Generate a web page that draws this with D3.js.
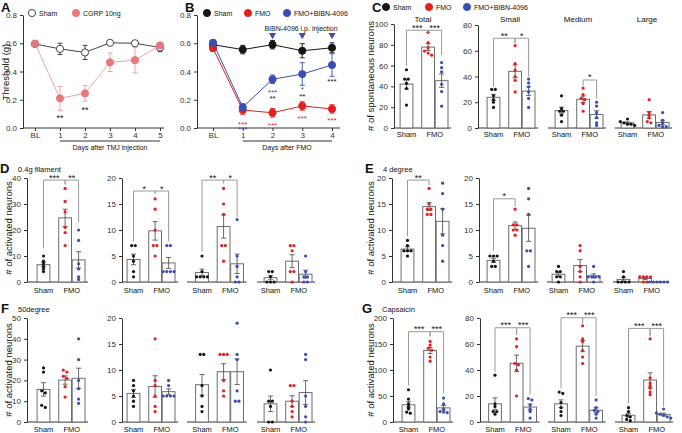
<!DOCTYPE html>
<html>
<head>
<meta charset="utf-8">
<script src="https://cdn.jsdelivr.net/npm/d3@7"></script>
<style>
  body { margin: 0; background: #fff; }
  svg { display: block; font-family: 'Liberation Sans', Arial, sans-serif; }
</style>
</head>
<body>
<svg id="chart"></svg>
<script>
// ---------- panel A : threshold after TMJ injection ----------
let daysA = ['BL', '1', '2', '3', '4', '5']
let shamA = [0.595, 0.56, 0.535, 0.603, 0.60, 0.57]
let shamAErr = [0.01, 0.04, 0.05, 0.01, 0.015, 0.03]
let cgrpA = [0.597, 0.21, 0.245, 0.465, 0.48, 0.585]
let cgrpAErr = [0.01, 0.085, 0.055, 0.065, 0.09, 0.02]
// [day, value, text]
let starsA = [['1', 0.085, '**'], ['2', 0.142, '**']]

// ---------- panel B : threshold after FMO ----------
let daysB = ['BL', '1', '2', '3', '4']
let shamB = [0.59, 0.555, 0.59, 0.547, 0.568]
let shamBErr = [0.02, 0.03, 0.03, 0.05, 0.035]
let fmoB = [0.565, 0.127, 0.108, 0.156, 0.135]
let fmoBErr = [0.02, 0.03, 0.03, 0.03, 0.03]
let bibnB = [0.604, 0.147, 0.345, 0.382, 0.446]
let bibnBErr = [0.015, 0.025, 0.03, 0.08, 0.08]
let injectDays = ['2', '3', '4']
// [day, value, text, group index]
let starsB = [
  ['1', 0.037, '***', 1], ['1', 0.005, '***', 2],
  ['2', 0.266, '***', 2], ['2', 0.225, '**', 0], ['2', 0.035, '***', 1],
  ['3', 0.285, '*', 2], ['3', 0.24, '**', 0], ['3', 0.078, '***', 1],
  ['4', 0.34, '***', 0], ['4', 0.064, '***', 1]
]

let groups = ['Sham', 'FMO', 'FMO+BIBN-4096']
let sizeNames = ['Total', 'Small', 'Medium', 'Large']

// ---------- panel C : spontaneous neurons (Sham, FMO, FMO+BIBN) ----------
let cTotal = [[56, 47, 47, 43, 38, 22], [92, 82, 77, 74, 72, 70], [63, 58, 54, 42, 35, 21]]
let cSmall = [[30, 30, 25, 22, 20, 16], [64, 50, 45, 40, 37, 28], [38, 35, 32, 28, 23, 16]]
let cMedium = [[25, 15, 13, 13, 10, 5], [31, 26, 23, 22, 19, 13], [20, 17, 12, 8, 4, 2]]
let cLarge = [[7, 5, 4, 3, 3, 2], [22, 12, 10, 8, 5, 4], [12, 6, 4, 2, 1, 1]]

// ---------- panel D : 0.4g filament ----------
let dTotal = [[10, 8, 7, 6, 5, 4], [36, 31, 27, 21, 19, 14], [20, 16, 7, 5, 2, 1]]
let dSmall = [[7, 7, 5, 4, 2, 1], [16, 14, 10, 7, 7, 5], [7, 7, 2, 2, 2, 2]]
let dMedium = [[5, 2, 1, 1, 1, 1], [18, 15, 13, 7, 7, 4], [12, 5, 3, 1, 0, 0]]
let dLarge = [[2, 2, 1, 0, 0, 0], [7, 7, 6, 2, 2, 0], [5, 2, 1, 1, 0, 0]]

// ---------- panel E : 4 degree ----------
let eTotal = [[8, 7, 6, 6, 6, 5], [18, 15, 14, 14, 13, 13], [19, 17, 14, 9, 7, 4]]
let eSmall = [[5, 5, 5, 4, 3, 3], [14, 11, 11, 10, 10, 9], [18, 16, 13, 6, 6, 3]]
let eMedium = [[3, 2, 2, 1, 1, 0], [7, 6, 3, 2, 1, 0], [3, 1, 1, 1, 1, 0]]
let eLarge = [[2, 1, 0, 0, 0, 0], [1, 1, 1, 1, 0, 0], [0, 0, 0, 0, 0, 0]]

// ---------- panel F : 50 degree ----------
let fTotal = [[26, 24, 15, 14, 8, 7], [25, 24, 22, 21, 17, 12], [40, 30, 20, 16, 11, 9]]
let fSmall = [[8, 7, 6, 5, 4, 3], [16, 8, 7, 5, 3, 2], [8, 7, 5, 5, 5, 5]]
let fMedium = [[13, 13, 7, 5, 3, 2], [13, 13, 13, 8, 6, 5], [19, 13, 12, 6, 4, 4]]
let fLarge = [[10, 4, 4, 3, 0, 0], [7, 7, 4, 3, 2, 1], [13, 12, 5, 3, 1, 0]]

// ---------- panel G : capsaicin ----------
let gTotal = [[62, 44, 35, 30, 25, 19, 17], [155, 148, 142, 138, 125, 117], [46, 35, 25, 20, 19, 18]]
let gSmall = [[36, 14, 12, 8, 8, 6], [64, 58, 45, 44, 40, 20], [18, 17, 13, 10, 8, 3]]
let gMedium = [[23, 22, 15, 11, 8, 5], [74, 64, 62, 55, 50, 45], [17, 11, 9, 8, 6, 3]]
let gLarge = [[11, 8, 5, 4, 2, 1], [64, 34, 30, 28, 26, 23, 21], [10, 7, 6, 5, 4, 3]]

// significance brackets: [group a, group b, text, level, leg end a, leg end b]
let cSig = [
  [[0, 1, '***', 94, 60, 92], [1, 2, '***', 94, 92, 70]],
  [[0, 1, '**', 69.7, 32, 66], [1, 2, '*', 69.7, 66, 40]],
  [[1, 2, '*', 37.3, 33, 23]],
  []
]
let dSig = [
  [[0, 1, '***', 39.2, 13, 37.5], [1, 2, '**', 39.2, 37.5, 23]],
  [[0, 1, '*', 17.5, 7.8, 17], [1, 2, '*', 17.5, 17, 7.8]],
  [[0, 1, '**', 19.6, 5.8, 19], [1, 2, '*', 19.6, 19, 12.5]],
  []
]
let eSig = [[[0, 1, '**', 19.6, 8.8, 18.6]], [[0, 1, '*', 16, 6, 14.6]], [], []]
let fSig = [[], [], [], []]
let gSig = [
  [[0, 1, '***', 173.7, 70, 165], [1, 2, '***', 173.7, 165, 55]],
  [[0, 1, '***', 72.5, 38.5, 67], [1, 2, '***', 72.5, 67, 21]],
  [[0, 1, '***', 80.2, 26, 76], [1, 2, '***', 80.2, 76, 20]],
  [[0, 1, '***', 72, 14.5, 66], [1, 2, '***', 72, 66, 12]]
]

// ---------- drawing ----------
let width = 682
let height = 433
let groupColor = ['#151515', '#e3201f', '#3a4db3']
let pink = '#e8767d'
let slot = [0, 1.6, 2.6]

let svg = d3.select('#chart').attr('width', width).attr('height', height)

let styleAxis = (g) => {
  g.attr('font-size', 8).attr('font-family', 'Liberation Sans, Arial, sans-serif').attr('color', '#333')
}

let addText = (x, y, str, size, opts) => {
  let t = svg.append('text').attr('x', x).attr('y', y).text(str)
    .attr('font-size', size).attr('fill', '#111')
  if (opts && opts.anchor) t.attr('text-anchor', opts.anchor)
  if (opts && opts.bold) t.attr('font-weight', 'bold')
  if (opts && opts.fill) t.attr('fill', opts.fill)
  return t
}

let yTitle = (x, y, str) => {
  svg.append('text').attr('transform', 'translate(' + x + ',' + y + ') rotate(-90)')
    .attr('text-anchor', 'middle').attr('font-size', 9.5).attr('fill', '#111').text(str)
}

// simple beeswarm: dots with (nearly) equal values are spread sideways
let swarm = (vals, yScale, cx) => {
  let pts = vals.map((v) => ({ v: v, y: yScale(v) })).sort((a, b) => a.y - b.y)
  let clusters = []
  pts.forEach((p) => {
    let last = clusters[clusters.length - 1]
    if (last && Math.abs(p.y - last[last.length - 1].y) < 2.2) last.push(p)
    else clusters.push([p])
  })
  clusters.forEach((c) => c.forEach((p, k) => { p.x = cx + (k - (c.length - 1) / 2) * 3.6 }))
  return pts
}

let lineChart = (days, series, x0, xRange, xEnd) => {
  let xScale = d3.scalePoint().domain(days).range(xRange)
  let yScale = d3.scaleLinear().domain([0, 0.8]).range([128, 15])
  let yAxis = d3.axisLeft(yScale).tickValues([0, 0.2, 0.4, 0.6, 0.8])
    .tickFormat(d3.format('.1f')).tickSize(3).tickSizeOuter(0)
  let gy = svg.append('g').attr('transform', 'translate(' + x0 + ',0)').call(yAxis)
  styleAxis(gy)
  let gx = svg.append('g').attr('transform', 'translate(0,128)')
    .call(d3.axisBottom(xScale).tickSize(3).tickPadding(1))
  gx.select('.domain').remove()
  styleAxis(gx)
  svg.append('line').attr('x1', x0).attr('x2', xEnd).attr('y1', 128).attr('y2', 128)
    .attr('stroke', '#333')

  series.forEach((s) => {
    let line = d3.line().x((d, i) => xScale(days[i])).y((d) => yScale(d))
    svg.append('path').datum(s.vals).attr('d', line).attr('fill', 'none')
      .attr('stroke', s.line).attr('stroke-width', 1)
    s.vals.forEach((v, i) => {
      let cx = xScale(days[i])
      let e = s.err[i]
      let g = svg.append('g').attr('stroke', s.errColor).attr('stroke-width', 0.9)
      g.append('line').attr('x1', cx).attr('x2', cx).attr('y1', yScale(v - e)).attr('y2', yScale(v + e))
      g.append('line').attr('x1', cx - 2.5).attr('x2', cx + 2.5).attr('y1', yScale(v - e)).attr('y2', yScale(v - e))
      g.append('line').attr('x1', cx - 2.5).attr('x2', cx + 2.5).attr('y1', yScale(v + e)).attr('y2', yScale(v + e))
    })
    svg.selectAll(null).data(s.vals).enter().append('circle')
      .attr('cx', (d, i) => xScale(days[i])).attr('cy', (d) => yScale(d)).attr('r', 3.6)
      .attr('fill', s.fill).attr('stroke', s.stroke).attr('stroke-width', 0.9)
  })
  return { xScale: xScale, yScale: yScale }
}

// bar row: four size classes, first two own a y axis
let barRow = (sets, sigs, layout, scales, ticks, labelY) => {
  sets.forEach((data, k) => {
    let yScale = k == 0 ? scales[0] : scales[1]
    let lay = layout[k]
    let xScale = d3.scaleLinear().domain([0, 1]).range([lay.xs, lay.xs + 13.5])
    let bw = 12.8
    if (k < 2) {
      let gy = svg.append('g').attr('transform', 'translate(' + lay.x0 + ',0)')
        .call(d3.axisLeft(yScale).tickValues(k == 0 ? ticks[0] : ticks[1]).tickSize(3).tickSizeOuter(0))
      styleAxis(gy)
    }
    svg.append('line').attr('x1', lay.x0).attr('x2', xScale(3.3))
      .attr('y1', yScale(0)).attr('y2', yScale(0)).attr('stroke', '#333')

    data.forEach((vals, i) => {
      let m = d3.mean(vals)
      let se = d3.deviation(vals) / Math.sqrt(vals.length)
      let cx = xScale(slot[i])
      svg.append('rect').attr('x', cx - bw / 2).attr('y', yScale(m))
        .attr('width', bw).attr('height', yScale(0) - yScale(m))
        .attr('fill', '#fff').attr('stroke', '#6d6d6d').attr('stroke-width', 1)
      let g = svg.append('g').attr('stroke', '#444').attr('stroke-width', 0.8)
      let lo = Math.max(0, m - se)
      g.append('line').attr('x1', cx).attr('x2', cx).attr('y1', yScale(lo)).attr('y2', yScale(m + se))
      g.append('line').attr('x1', cx - 2.5).attr('x2', cx + 2.5).attr('y1', yScale(m + se)).attr('y2', yScale(m + se))
      g.append('line').attr('x1', cx - 2.5).attr('x2', cx + 2.5).attr('y1', yScale(lo)).attr('y2', yScale(lo))
      svg.selectAll(null).data(swarm(vals, yScale, cx)).enter().append('circle')
        .attr('cx', (d) => d.x).attr('cy', (d) => d.y).attr('r', 1.6)
        .attr('fill', groupColor[i])
    })

    sigs[k].forEach((s) => {
      let xa = xScale(slot[s[0]])
      let xb = xScale(slot[s[1]])
      let lv = yScale(s[3])
      svg.append('path')
        .attr('d', 'M' + xa + ',' + yScale(s[4]) + 'V' + lv + 'H' + xb + 'V' + yScale(s[5]))
        .attr('fill', 'none').attr('stroke', '#9a9a9a').attr('stroke-width', 1)
      addText((xa + xb) / 2, lv + 0.5, s[2], 9, { anchor: 'middle' })
    })

    addText(xScale(0), labelY, 'Sham', 7.5, { anchor: 'middle' })
    addText(xScale(2.1), labelY, 'FMO', 7.5, { anchor: 'middle' })
  })
}

let legend = (items, y) => {
  items.forEach((it) => {
    svg.append('circle').attr('cx', it[0]).attr('cy', y).attr('r', 3.6)
      .attr('fill', it[2]).attr('stroke', it[3]).attr('stroke-width', 0.9)
    addText(it[0] + 7, y + 2.6, it[1], 7)
  })
}

// ----- panel A -----
addText(1, 12, 'A', 13, { bold: true })
legend([[32, 'Sham', '#fff', '#333'], [76, 'CGRP 10ng', pink, pink]], 13)
yTitle(8.5, 72, 'Threshold (g)')
let a = lineChart(daysA, [
  { vals: shamA, err: shamAErr, line: '#444', fill: '#fff', stroke: '#333', errColor: '#333' },
  { vals: cgrpA, err: cgrpAErr, line: '#f2a3a8', fill: pink, stroke: pink, errColor: '#ee9aa0' }
], 23, [35, 160], 164)
starsA.forEach((s) => addText(a.xScale(s[0]), a.yScale(s[1]) + 5, s[2], 9, { anchor: 'middle' }))
svg.append('line').attr('x1', a.xScale('1')).attr('x2', a.xScale('5')).attr('y1', 141).attr('y2', 141)
  .attr('stroke', '#333')
addText(110, 150, 'Days after TMJ injection', 7, { anchor: 'middle' })

// ----- panel B -----
addText(185, 12, 'B', 13, { bold: true })
legend([[207, groups[0], groupColor[0], groupColor[0]], [248, groups[1], groupColor[1], groupColor[1]],
  [287, groups[2], groupColor[2], groupColor[2]]], 13)
let b = lineChart(daysB, [
  { vals: shamB, err: shamBErr, line: groupColor[0], fill: groupColor[0], stroke: groupColor[0], errColor: groupColor[0] },
  { vals: fmoB, err: fmoBErr, line: groupColor[1], fill: groupColor[1], stroke: groupColor[1], errColor: groupColor[1] },
  { vals: bibnB, err: bibnBErr, line: groupColor[2], fill: groupColor[2], stroke: groupColor[2], errColor: groupColor[2] }
], 197, [213, 332], 340)
starsB.forEach((s) => addText(b.xScale(s[0]), b.yScale(s[1]) + 4.5, s[2], 8,
  { anchor: 'middle', fill: groupColor[s[3]] }))
svg.selectAll(null).data(injectDays).enter().append('path')
  .attr('d', d3.symbol(d3.symbolTriangle, 22))
  .attr('transform', (d) => 'translate(' + b.xScale(d) + ',' + b.yScale(0.658) + ') rotate(180)')
  .attr('fill', groupColor[2])
addText(301, 31, 'BIBN-4096 i.p. injection', 7, { anchor: 'middle' })
svg.append('line').attr('x1', b.xScale('1')).attr('x2', b.xScale('4')).attr('y1', 141).attr('y2', 141)
  .attr('stroke', '#333')
addText(287, 150, 'Days after FMO', 7, { anchor: 'middle' })

// ----- panel C -----
addText(372, 12, 'C', 13, { bold: true })
legend([[386, groups[0], groupColor[0], groupColor[0]], [429, groups[1], groupColor[1], groupColor[1]],
  [467, groups[2], groupColor[2], groupColor[2]]], 7)
yTitle(374, 76, '# of spontaneous neurons')
let cLayout = [{ x0: 394, xs: 406.5 }, { x0: 478, xs: 493.5 }, { x0: 548, xs: 561.5 }, { x0: 615, xs: 627.5 }]
barRow([cTotal, cSmall, cMedium, cLarge], cSig, cLayout,
  [d3.scaleLinear().domain([0, 100]).range([128, 24]), d3.scaleLinear().domain([0, 80]).range([128, 25])],
  [[0, 20, 40, 60, 80, 100], [0, 20, 40, 60, 80]], 137)
let cTitleX = [423, 510, 578, 647]
sizeNames.forEach((n, i) => addText(cTitleX[i], 22, n, 8, { anchor: 'middle' }))

// ----- panel D -----
let leftLayout = [{ x0: 27, xs: 43.5 }, { x0: 122, xs: 133.5 }, { x0: 187, xs: 202 }, { x0: 257, xs: 270.5 }]
addText(0, 173, 'D', 13, { bold: true })
addText(18, 172, '0.4g filament', 7.5)
yTitle(12, 228, '# of activated neurons')
barRow([dTotal, dSmall, dMedium, dLarge], dSig, leftLayout,
  [d3.scaleLinear().domain([0, 40]).range([282, 178]), d3.scaleLinear().domain([0, 20]).range([282, 178])],
  [[0, 10, 20, 30, 40], [0, 5, 10, 15, 20]], 293)

// ----- panel E -----
addText(365, 173, 'E', 13, { bold: true })
addText(383, 172, '4 degree', 7.5)
yTitle(374, 228, '# of activated neurons')
barRow([eTotal, eSmall, eMedium, eLarge], eSig,
  [{ x0: 392, xs: 407.5 }, { x0: 479, xs: 493.5 }, { x0: 547, xs: 558.5 }, { x0: 613, xs: 623.5 }],
  [d3.scaleLinear().domain([0, 20]).range([282, 178]), d3.scaleLinear().domain([0, 20]).range([282, 178])],
  [[0, 5, 10, 15, 20], [0, 5, 10, 15, 20]], 293)

// ----- panel F -----
addText(1, 313, 'F', 13, { bold: true })
addText(18, 312, '50degree', 7.5)
yTitle(12, 370, '# of activated neurons')
barRow([fTotal, fSmall, fMedium, fLarge], fSig, leftLayout,
  [d3.scaleLinear().domain([0, 50]).range([422, 318]), d3.scaleLinear().domain([0, 20]).range([422, 318])],
  [[0, 10, 20, 30, 40, 50], [0, 5, 10, 15, 20]], 432)

// ----- panel G -----
addText(362, 313, 'G', 13, { bold: true })
addText(382, 312, 'Capsaicin', 7.5)
yTitle(374, 370, '# of activated neurons')
barRow([gTotal, gSmall, gMedium, gLarge], gSig,
  [{ x0: 393, xs: 408.5 }, { x0: 480, xs: 495 }, { x0: 548, xs: 561 }, { x0: 615, xs: 628.5 }],
  [d3.scaleLinear().domain([0, 200]).range([422, 318]), d3.scaleLinear().domain([0, 80]).range([422, 318])],
  [[0, 50, 100, 150, 200], [0, 20, 40, 60, 80]], 432)
</script>
</body>
</html>
